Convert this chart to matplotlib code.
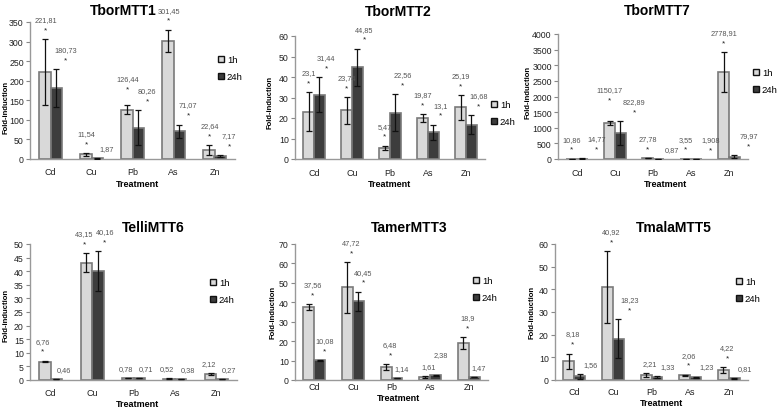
import matplotlib
matplotlib.use("Agg")
import matplotlib.pyplot as plt
from matplotlib.patches import Patch
import numpy as np

plt.rcParams['font.family'] = ['Liberation Sans', 'DejaVu Sans']

categories = ["Cd", "Cu", "Pb", "As", "Zn"]
series_names = ["1h", "24h"]

# ---- data (fold-induction), error bars, significance stars ----
tbor1_1h = [221.81, 11.54, 126.44, 301.45, 22.64]
tbor1_24h = [180.73, 1.87, 80.26, 71.07, 7.17]
tbor1_err1h = [85, 4, 11, 29, 12]
tbor1_err24h = [48, 1, 45, 17, 2]
tbor1_star1h = [1, 1, 1, 1, 1]
tbor1_star24h = [1, 0, 1, 1, 1]

tbor2_1h = [23.1, 23.74, 5.47, 19.87, 25.19]
tbor2_24h = [31.44, 44.85, 22.56, 13.1, 16.68]
tbor2_err1h = [9.5, 6.5, 1.0, 2.0, 6.0]
tbor2_err24h = [8.5, 9.0, 9.0, 3.7, 4.7]
tbor2_star1h = [1, 1, 1, 1, 1]
tbor2_star24h = [1, 1, 1, 1, 1]

tbor7_1h = [10.86, 1150.17, 27.78, 3.55, 2778.91]
tbor7_24h = [14.77, 822.89, 0.87, 1.908, 79.97]
tbor7_err1h = [3, 65, 5, 1, 640]
tbor7_err24h = [3, 380, 0.5, 0.5, 40]
tbor7_star1h = [1, 1, 1, 1, 1]
tbor7_star24h = [1, 1, 0, 1, 1]

telli6_1h = [6.76, 43.15, 0.78, 0.52, 2.12]
telli6_24h = [0.46, 40.16, 0.71, 0.38, 0.27]
telli6_err1h = [0.3, 3.5, 0.1, 0.1, 0.4]
telli6_err24h = [0.05, 7.3, 0.1, 0.05, 0.05]
telli6_star1h = [1, 1, 0, 0, 0]
telli6_star24h = [0, 1, 0, 0, 0]

tamer3_1h = [37.56, 47.72, 6.48, 1.61, 18.9]
tamer3_24h = [10.08, 40.45, 1.14, 2.38, 1.47]
tamer3_err1h = [1.5, 13.0, 1.5, 0.4, 3.0]
tamer3_err24h = [0.2, 5.0, 0.1, 0.4, 0.1]
tamer3_star1h = [1, 1, 1, 0, 1]
tamer3_star24h = [1, 1, 0, 0, 0]

tmala5_1h = [8.18, 40.92, 2.21, 2.06, 4.22]
tmala5_24h = [1.56, 18.23, 1.33, 1.23, 0.81]
tmala5_err1h = [3.5, 15.8, 1.0, 0.3, 1.3]
tmala5_err24h = [0.9, 8.5, 0.4, 0.3, 0.2]
tmala5_star1h = [1, 1, 0, 1, 1]
tmala5_star24h = [0, 1, 0, 0, 0]

titles = ["TborMTT1", "TborMTT2", "TborMTT7", "TelliMTT6", "TamerMTT3", "TmalaMTT5"]
yticks_list = [
    list(range(0, 351, 50)),
    list(range(0, 61, 10)),
    list(range(0, 4001, 500)),
    list(range(0, 51, 5)),
    list(range(0, 71, 10)),
    list(range(0, 61, 10)),
]

panels = [
    (tbor1_1h, tbor1_24h, tbor1_err1h, tbor1_err24h, tbor1_star1h, tbor1_star24h),
    (tbor2_1h, tbor2_24h, tbor2_err1h, tbor2_err24h, tbor2_star1h, tbor2_star24h),
    (tbor7_1h, tbor7_24h, tbor7_err1h, tbor7_err24h, tbor7_star1h, tbor7_star24h),
    (telli6_1h, telli6_24h, telli6_err1h, telli6_err24h, telli6_star1h, telli6_star24h),
    (tamer3_1h, tamer3_24h, tamer3_err1h, tamer3_err24h, tamer3_star1h, tamer3_star24h),
    (tmala5_1h, tmala5_24h, tmala5_err1h, tmala5_err24h, tmala5_star1h, tmala5_star24h),
]

# ---- layout (pixels) ----
W, H = 777, 410
PT = 0.72  # points per pixel at 100 dpi
# left, right, top(ymax), bottom(y=0)
axes_px = [
    (30, 235, 23, 160),
    (295, 485, 37, 160),
    (558, 748, 35, 160),
    (30, 237, 245, 381),
    (295, 488, 245, 381),
    (555, 748, 245, 381),
]
title_px = [(123, 11), (398, 12), (657, 11), (153, 228), (409, 228), (674, 228)]
ylabel_px = [(6, 107), (270, 102), (528, 92), (6, 315), (273, 312), (532, 312)]
xlabel_px = [(138, 185), (390, 185), (665, 185), (137, 405), (398, 399), (662, 404)]
legend_px = [(218, 56), (491, 101), (753, 69), (210, 279), (473, 277), (736, 278)]
xtick_pad = [6, 6.5, 6.5, 6, 1.5, 5]
# horizontal shift (px) of the value-label groups for 1h and 24h bars
label_dx = [(1, 9), (0, 7), (0, 14), (-2, 7), (4, 5), (4, 11)]

light = "#d9d9d9"
dark = "#3d3d3d"
edge = "#7a7a7a"
bw = 0.28
STAR_PX = 6      # star bottom above bar/error top
LAB_STAR_PX = 16  # label bottom above top when starred
LAB_PX = 6       # label bottom above top when not starred

fig = plt.figure(figsize=(W / 100, H / 100), dpi=100)

def fmt(v):
    return str(v).replace(".", ",")

def text_w(s):
    return sum(2.0 if c == "," else 4.1 for c in s)

for k, (v1, v24, e1, e24, s1, s24) in enumerate(panels):
    l, r, t, b = axes_px[k]
    ax = fig.add_axes([l / W, 1 - b / H, (r - l) / W, (b - t) / H])
    x = np.arange(len(categories))
    yt = yticks_list[k]
    ymax = yt[-1]
    ppu = (b - t) / ymax
    cat_px = (r - l) / len(categories)

    ax.bar(x - bw / 2, v1, width=bw, color=light, edgecolor=edge, linewidth=1.2, zorder=2)
    ax.bar(x + bw / 2, v24, width=bw, color=dark, edgecolor=edge, linewidth=1.2, zorder=2)
    ax.errorbar(x - bw / 2, v1, yerr=e1, fmt="none", ecolor="#111111",
                elinewidth=0.9, capsize=2.5, capthick=0.9, zorder=3)
    ax.errorbar(x + bw / 2, v24, yerr=e24, fmt="none", ecolor="#111111",
                elinewidth=0.9, capsize=2.5, capthick=0.9, zorder=3)

    d1, d24 = label_dx[k]
    for i in range(len(categories)):
        groups = []
        for vals, errs, stars, dx, lx in [(v1, e1, s1, -bw / 2, d1), (v24, e24, s24, bw / 2, d24)]:
            top = vals[i] + errs[i]
            lab = fmt(vals[i])
            lab_off = LAB_STAR_PX if stars[i] else LAB_PX
            groups.append(dict(xd=x[i] + dx, top=top, lab=lab, star=stars[i], lx=lx,
                               lab_off=lab_off, extra=0.0,
                               xc=(i + 0.5 + dx) * cat_px + lx))
        g1, g2 = groups
        # keep the two labels of a category from colliding
        y1 = g1["top"] * ppu + g1["lab_off"]
        y2 = g2["top"] * ppu + g2["lab_off"]
        hgap = abs(g2["xc"] - g1["xc"]) - (text_w(g1["lab"]) + text_w(g2["lab"])) / 2
        if hgap < 1 and abs(y1 - y2) < 11:
            hi = g1 if y1 >= y2 else g2
            hi["extra"] = 12 - abs(y1 - y2)
        for g in groups:
            if g["star"]:
                ax.annotate("*", (g["xd"], g["top"]),
                            xytext=(g["lx"] * PT, (STAR_PX + g["extra"]) * PT),
                            textcoords="offset points", ha="center", va="bottom",
                            fontsize=6, color="#222222")
            ax.annotate(g["lab"], (g["xd"], g["top"]),
                        xytext=(g["lx"] * PT, (g["lab_off"] + g["extra"]) * PT),
                        textcoords="offset points", ha="center", va="bottom",
                        fontsize=5.3, color="#555555")

    ax.set_xlim(-0.5, len(categories) - 0.5)
    ax.set_ylim(0, ymax)
    ax.set_yticks(yt)
    ax.set_yticklabels([str(v) for v in yt], fontsize=6.3, color="#222222")
    ax.set_xticks(x)
    ax.set_xticklabels(categories, fontsize=6.5, color="#222222")
    ax.tick_params(axis="x", length=0, pad=xtick_pad[k])
    ax.tick_params(axis="y", length=3, width=0.8, color="#888888", pad=1.5)
    for s in ["top", "right"]:
        ax.spines[s].set_visible(False)
    for s in ["left", "bottom"]:
        ax.spines[s].set_color("#999999")
        ax.spines[s].set_linewidth(1.0)
    ax.patch.set_alpha(0)

    tx, ty = title_px[k]
    fig.text(tx / W, 1 - ty / H, titles[k], ha="center", va="center",
             fontsize=10, fontweight="bold")
    yx, yy = ylabel_px[k]
    fig.text(yx / W, 1 - yy / H, "Fold-induction", rotation=90, ha="center", va="center",
             fontsize=5.5, fontweight="bold")
    xx, xy = xlabel_px[k]
    fig.text(xx / W, 1 - xy / H, "Treatment", ha="center", va="center",
             fontsize=6.5, fontweight="bold")
    gx, gy = legend_px[k]
    handles = [Patch(facecolor=light, edgecolor="#111111", linewidth=1.0),
               Patch(facecolor=dark, edgecolor="#111111", linewidth=1.0)]
    fig.legend(handles, series_names, loc="upper left",
               bbox_to_anchor=(gx / W, 1 - gy / H), bbox_transform=fig.transFigure,
               frameon=False, fontsize=6.8, handlelength=0.65, handleheight=0.65,
               handletextpad=0.3, labelspacing=0.85, borderpad=0, borderaxespad=0)

fig.savefig("out.png", dpi=100)
